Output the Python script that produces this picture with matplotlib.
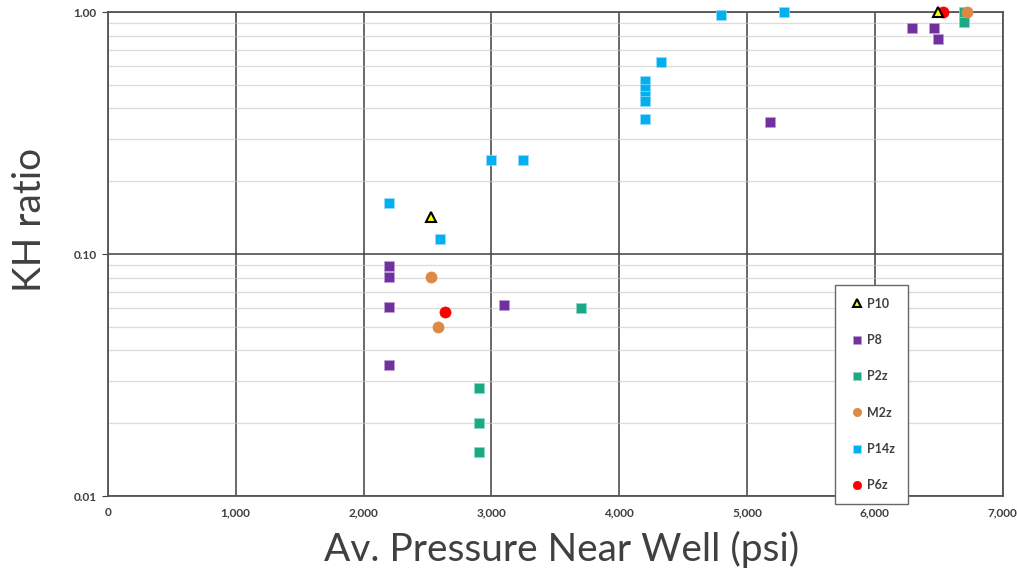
import numpy as np
import matplotlib.pyplot as plt
from matplotlib.ticker import FixedLocator, NullFormatter

plt.rcParams['font.family'] = ['Lato', 'DejaVu Sans']

# Data: (pressure psi, KH ratio)
p10_x = [2530, 6490]
p10_y = [0.142, 1.0]

p8_x = [2200, 2200, 2200, 2200, 3100, 5180, 6290, 6460, 6490]
p8_y = [0.0893, 0.0805, 0.0606, 0.0348, 0.0618, 0.351, 0.859, 0.86, 0.774]

p2z_x = [2900, 2900, 2900, 3700, 6700, 6700]
p2z_y = [0.0279, 0.0200, 0.0153, 0.0598, 1.0, 0.909]

m2z_x = [2530, 2580, 6720]
m2z_y = [0.0805, 0.0499, 1.0]

p14z_x = [2200, 2600, 3000, 3250, 4200, 4200, 4200, 4200, 4200, 4330, 4800, 5290]
p14z_y = [0.162, 0.116, 0.245, 0.245, 0.361, 0.52, 0.48, 0.45, 0.43, 0.621, 0.972, 1.0]

p6z_x = [2640, 6530]
p6z_y = [0.0577, 1.0]

x_ticks = [0, 1000, 2000, 3000, 4000, 5000, 6000, 7000]
x_tick_labels = ['0', '1,000', '2,000', '3,000', '4,000', '5,000', '6,000', '7,000']
y_ticks = [0.01, 0.1, 1.0]
y_tick_labels = ['0.01', '0.10', '1.00']

fig = plt.figure(figsize=(10.17, 5.77), dpi=100)
ax = fig.add_axes([0.106, 0.140, 0.880, 0.839])

ax.set_xlim(0, 7000)
ax.set_yscale('log')
ax.set_ylim(0.01, 1.0)

# grid
ax.yaxis.set_minor_locator(FixedLocator([k * 10.0 ** e for e in (-2, -1) for k in range(2, 10)]))
ax.yaxis.set_minor_formatter(NullFormatter())
ax.grid(True, which='minor', axis='y', color='#c8c8c8', linewidth=0.9, linestyle=(0, (1, 0.6)))
ax.grid(True, which='major', axis='both', color='#404040', linewidth=1.1)
ax.set_axisbelow(True)

ax.set_xticks(x_ticks)
ax.set_xticklabels(x_tick_labels)
ax.set_yticks(y_ticks)
ax.set_yticklabels(y_tick_labels)
ax.tick_params(which='both', length=0, pad=8, labelsize=8.5, colors='#404040')
ax.tick_params(axis='y', which='major', length=4, pad=4, color='#404040')
ax.tick_params(axis='y', which='minor', length=0)
for lab in ax.get_xticklabels() + ax.get_yticklabels():
    lab.set_fontweight('bold')

for s in ax.spines.values():
    s.set_color('#555555')
    s.set_linewidth(1.3)

ms = 7
kw = dict(clip_on=False)
ax.plot(p8_x, p8_y, 's', color='#7030A0', ms=ms, mec='#b9a0d0', mew=0.5, label='P8', zorder=3, **kw)
ax.plot(p2z_x, p2z_y, 's', color='#1BAA85', ms=ms, mec='#8fd8c4', mew=0.5, label='P2z', zorder=3, **kw)
ax.plot(m2z_x, m2z_y, 'o', color='#DE8A45', ms=ms + 1, mec='#DE8A45', mew=0.5, label='M2z', zorder=3, **kw)
ax.plot(p14z_x, p14z_y, 's', color='#00B0F0', ms=ms, mec='#9adcf6', mew=0.5, label='P14z', zorder=3, **kw)
ax.plot(p6z_x, p6z_y, 'o', color='#FF0000', ms=ms + 1, mec='#FF0000', mew=0.5, label='P6z', zorder=4, **kw)
ax.plot(p10_x, p10_y, '^', color='#FFFF00', ms=ms, mec='black', mew=1.5, label='P10', zorder=5, **kw)

ax.set_xlabel('Av. Pressure Near Well (psi)', fontsize=28, color='#404040')
ax.set_ylabel('KH ratio', fontsize=28, color='#404040')
ax.xaxis.set_label_coords(0.507, -0.072)
ax.yaxis.set_label_coords(-0.067, 0.57)

handles, labels = ax.get_legend_handles_labels()
order = [5, 0, 1, 2, 3, 4]
leg = fig.legend([handles[i] for i in order], [labels[i] for i in order],
                 loc='upper left', mode='expand',
                 bbox_to_anchor=(835 / 1017, 1 - 500 / 577, 73 / 1017, 215 / 577),
                 prop={'size': 9, 'weight': 'bold'}, labelspacing=1.95,
                 handlelength=1.5, handletextpad=0.1, borderpad=1.0,
                 markerscale=0.75, fancybox=False, shadow=False, framealpha=1,
                 borderaxespad=0)
leg.get_frame().set_edgecolor('#666666')
leg.get_frame().set_linewidth(1.0)
for t in leg.get_texts():
    t.set_color('#404040')

fig.savefig('out.png', dpi=100)
